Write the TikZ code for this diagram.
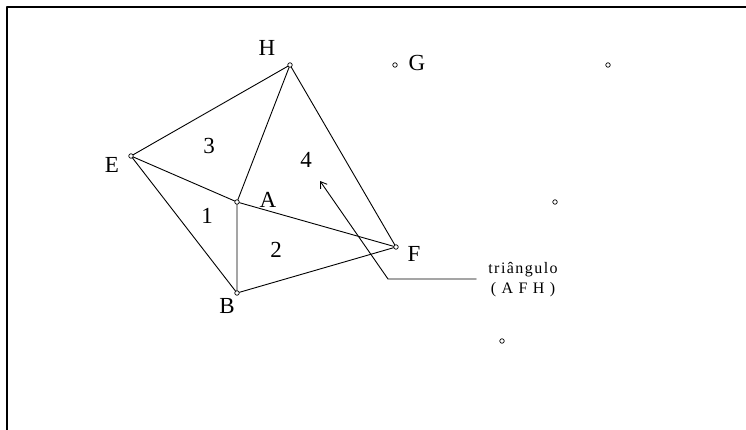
\documentclass[tikz,border=0pt]{standalone}
\usepackage{fontspec}
\setmainfont{Liberation Serif}
\usetikzlibrary{arrows.meta, positioning}

\begin{document}
\begin{tikzpicture}[x=1pt, y=-1pt, line cap=round, line join=round,
    ponto/.style={circle, draw, inner sep=0pt, minimum size=4.5pt, line width=0.7pt},
    rotulo/.style={inner sep=0pt, font=\fontsize{23}{26}\selectfont},
    lado/.style={line width=0.9pt}]
      \useasboundingbox (0,0) rectangle (746,430);

      % Moldura
      \draw[line width=2pt] (7,430) -- (7,7) -- (746,7);

      % Vertices
      \node[ponto] (H) at (290,65) {};
      \node[ponto] (E) at (131,156) {};
      \node[ponto] (A) at (237,202) {};
      \node[ponto] (F) at (396,247) {};
      \node[ponto] (B) at (237,293) {};
      \node[ponto] (G) at (395,65) {};
      \node[ponto] (P1) at (608,65) {};
      \node[ponto] (P2) at (555,202) {};
      \node[ponto] (P3) at (502,341) {};

      % Lados
      \draw[lado] (E) -- (H) -- (A) -- (E) -- (B) -- (A) -- (F) -- (B);
      \draw[lado] (H) -- (F);

      % Rotulos
      \node[rotulo] at (267,48) {H};
      \node[rotulo] at (417,63) {G};
      \node[rotulo] at (112,165) {E};
      \node[rotulo] at (268,200) {A};
      \node[rotulo] at (414,254) {F};
      \node[rotulo] at (227,306) {B};
      \node[rotulo] at (209,146) {3};
      \node[rotulo] at (306,160) {4};
      \node[rotulo] at (207,216) {1};
      \node[rotulo] at (276,250) {2};

      % Chamada
      \node[font=\fontsize{16}{20}\selectfont\addfontfeature{LetterSpace=9}, align=center, inner sep=0pt] (tri) at (523,280) {triângulo\\( A F H )};
      \coordinate (dobra) at (388,279);
      \coordinate (ponta) at (320,181);
      \draw[lado, -{Straight Barb[length=6pt, width=8pt]}] ([xshift=-12pt]tri.west |- dobra) -- (dobra) -- (ponta);
\end{tikzpicture}
\end{document}
